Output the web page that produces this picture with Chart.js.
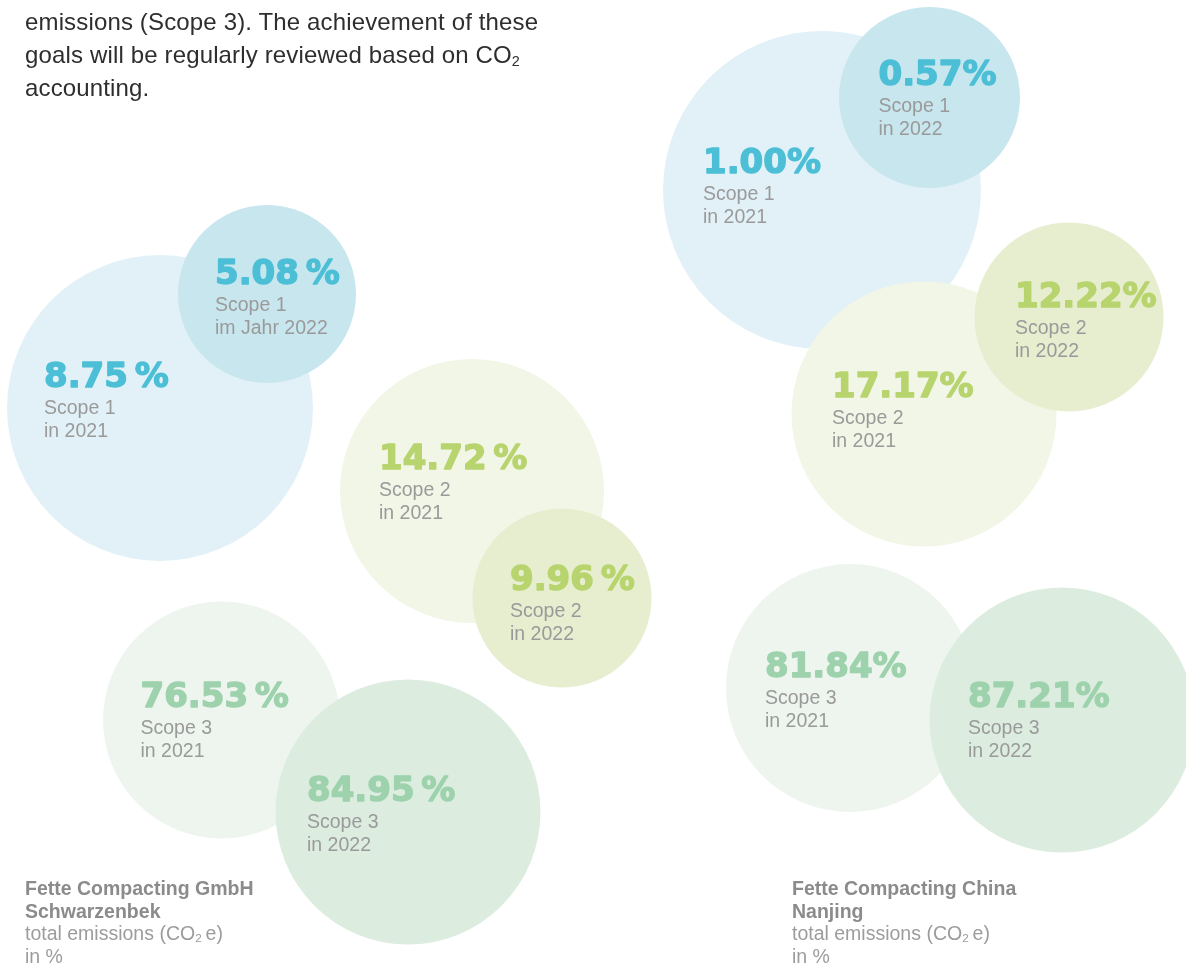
<!DOCTYPE html>
<html>
<head>
<meta charset="utf-8">
<script src="https://cdn.jsdelivr.net/npm/chart.js@4"></script>
<style>
    html, body { margin: 0; padding: 0; background: #fff; }
    #wrap { position: relative; width: 1186px; height: 963px; overflow: hidden; }
    #bubbles { position: absolute; left: 0; top: 0; }
    .intro {
        position: absolute; left: 25px; top: 5px;
        font: 24px/33px "Liberation Sans", Arial, sans-serif;
        letter-spacing: 0.15px;
        color: #2e2e2e; white-space: nowrap;
    }
    .caption {
        position: absolute; top: 877px;
        font: 19.5px/22.5px "Liberation Sans", Arial, sans-serif;
        color: #9c9c9c; white-space: nowrap;
    }
    .caption b { color: #8b8b8b; }
    sub { font-size: 0.6em; vertical-align: -0.2em; line-height: 0; }
</style>
</head>
<body>
<div id="wrap">
    <canvas id="bubbles" width="1186" height="963"></canvas>
    <div class="intro">
        emissions (Scope 3). The achievement of these<br>
        goals will be regularly reviewed based on CO<sub>2</sub><br>
        accounting.
    </div>
    <div class="caption" style="left:25px">
        <b>Fette Compacting GmbH<br>Schwarzenbek</b><br>
        total emissions (CO<sub>2</sub>&#8201;e)<br>
        in %
    </div>
    <div class="caption" style="left:792px">
        <b>Fette Compacting China<br>Nanjing</b><br>
        total emissions (CO<sub>2</sub>&#8201;e)<br>
        in %
    </div>
</div>

<script>
// share of total emissions (CO2e) in %, per scope
const scopes = ["Scope 1", "Scope 2", "Scope 3"];
const schwarzenbek2021 = [8.75, 14.72, 76.53];
const schwarzenbek2022 = [5.08, 9.96, 84.95];
const nanjing2021 = [1.00, 17.17, 81.84];
const nanjing2022 = [0.57, 12.22, 87.21];

// bubble centre x, y and radius (px), scope order
const placement = {
    schwarzenbek: {
        2021: [[160, 408, 153], [472, 491, 132], [221.5, 720, 118.5]],
        2022: [[267, 294, 89], [562, 598, 89.5], [408, 812, 132.5]]
    },
    nanjing: {
        2021: [[822, 190, 159], [924, 414, 132.5], [850, 688, 124]],
        2022: [[929.5, 97.5, 90.5], [1069, 317, 94.5], [1062, 720, 132.5]]
    }
};

// text block start relative to the bubble centre: [dx, baseline of the value]
const textOffset = {
    schwarzenbek: {
        2021: [[-116, -21], [-93, -22], [-81, -13]],
        2022: [[-52, -10], [-52, -8], [-101, -11]]
    },
    nanjing: {
        2021: [[-119, -17], [-92, -17], [-85, -11]],
        2022: [[-51, -13], [-54, -10], [-94, -13]]
    }
};

const fills = {
    2021: ["#e2f1f7", "#f1f6e7", "#edf5ee"],
    2022: ["#c8e6ee", "#e6eecf", "#dcede0"]
};
const valueColors = ["#4cbfd6", "#b8d46e", "#9dd2ad"];

const sites = [
    { key: "schwarzenbek", values: { 2021: schwarzenbek2021, 2022: schwarzenbek2022 }, sep: "\u2009" },
    { key: "nanjing", values: { 2021: nanjing2021, 2022: nanjing2022 }, sep: "" }
];

function yearText(site, year, scope) {
    if (site === "schwarzenbek" && year === 2022 && scope === 0) return "im Jahr 2022";
    return "in " + year;
}

// older year first so the newer bubble sits on top
const points = [];
sites.forEach(s => {
    scopes.forEach((name, i) => {
        [2021, 2022].forEach(year => {
            const [x, y, r] = placement[s.key][year][i];
            const [dx, dy] = textOffset[s.key][year][i];
            const v = s.values[year][i];
            points.push({
                x, y, r, dx, dy,
                scope: i,
                color: fills[year][i],
                label: v.toFixed(2) + s.sep + "%",
                sub: yearText(s.key, year, i)
            });
        });
    });
});

const bubbleText = {
    id: "bubbleText",
    afterDatasetsDraw(chart) {
        const ctx = chart.ctx;
        const meta = chart.getDatasetMeta(0);
        ctx.save();
        ctx.textAlign = "left";
        ctx.textBaseline = "alphabetic";
        ctx.lineJoin = "round";
        meta.data.forEach((el, i) => {
            const p = points[i];
            const x = el.x + p.dx;
            const y = el.y + p.dy;
            // heavy figures: bold face plus a thin outline in the same colour
            ctx.fillStyle = valueColors[p.scope];
            ctx.strokeStyle = valueColors[p.scope];
            ctx.lineWidth = 1.4;
            ctx.font = "bold 34px 'DejaVu Sans'";
            ctx.fillText(p.label, x, y);
            ctx.strokeText(p.label, x, y);
            ctx.fillStyle = "#9a9a9a";
            ctx.font = "19.5px 'Liberation Sans'";
            ctx.fillText(scopes[p.scope], x, y + 27);
            ctx.fillText(p.sub, x, y + 50);
        });
        ctx.restore();
    }
};

new Chart(document.getElementById("bubbles"), {
    type: "bubble",
    data: {
        datasets: [{
            data: points.map(p => ({ x: p.x, y: p.y, r: p.r })),
            backgroundColor: points.map(p => p.color),
            borderWidth: 0,
            hoverBorderWidth: 0,
            hoverRadius: 0,
            clip: false
        }]
    },
    options: {
        responsive: false,
        animation: false,
        events: [],
        layout: { padding: 0, autoPadding: false },
        plugins: { legend: { display: false }, tooltip: { enabled: false } },
        scales: {
            x: { type: "linear", min: 0, max: 1186, display: false },
            y: { type: "linear", min: 0, max: 963, reverse: true, display: false }
        }
    },
    plugins: [bubbleText]
});
</script>
</body>
</html>
